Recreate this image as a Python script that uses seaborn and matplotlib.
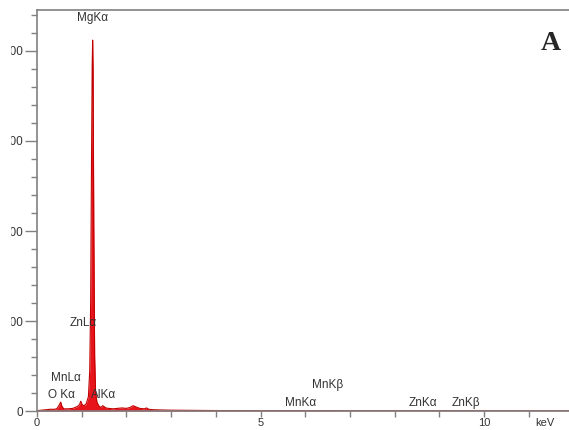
import numpy as np
import pandas as pd
import seaborn as sns
import matplotlib.pyplot as plt

# EDS spectrum (energy in keV, counts)
energia = [0.0, 0.1, 0.2, 0.3, 0.4, 0.45, 0.5, 0.53, 0.56, 0.6, 0.7, 0.8, 0.9,
           0.95, 0.98, 1.01, 1.05, 1.1, 1.15, 1.18, 1.2, 1.22, 1.235, 1.245, 1.255,
           1.27, 1.29, 1.31, 1.34, 1.38, 1.43, 1.47, 1.5, 1.54, 1.6, 1.7, 1.8, 1.9,
           2.0, 2.08, 2.15, 2.22, 2.3, 2.4, 2.45, 2.5, 2.6, 2.8, 3.0, 3.5, 4.0, 5.0,
           6.0, 7.0, 8.0, 9.0, 10.0, 11.0, 11.9]
cuentas = [0.5, 1.0, 1.5, 2.0, 2.0, 3.0, 7.0, 10.0, 5.0, 2.5, 2.5, 3.0, 5.0,
           7.0, 11.0, 7.0, 6.0, 8.0, 16.0, 45.0, 120.0, 280.0, 385.0, 412.0, 380.0,
           210.0, 60.0, 22.0, 10.0, 6.0, 4.0, 6.0, 5.0, 3.5, 3.0, 2.5, 3.0, 3.5,
           3.0, 4.0, 6.0, 4.5, 3.0, 2.5, 3.5, 2.0, 1.5, 1.2, 1.0, 0.8, 0.6, 0.5,
           0.5, 0.4, 0.4, 0.4, 0.3, 0.3, 0.3]

# etiquetas de los picos
picos = ['MgKα', 'ZnLα', 'MnLα', 'O Kα', 'AlKα', 'MnKβ', 'MnKα', 'ZnKα', 'ZnKβ']
picos_x = [1.25, 1.04, 0.64, 0.54, 1.50, 6.50, 5.90, 8.64, 9.60]
picos_y = [437, 98, 37, 18, 18, 29, 9, 9, 9]

yticks = [0, 100, 200, 300, 400]
xticks = list(range(0, 12))
xlabels = ['0', '', '', '', '', '5', '', '', '', '', '10', '']

df = pd.DataFrame({'keV': energia, 'counts': cuentas})

sns.set_style("ticks")
plt.rcParams['font.family'] = ['Liberation Sans', 'DejaVu Sans']

fig = plt.figure(figsize=(5.69, 4.30), dpi=100)
ax = fig.add_axes([0.065, 0.044, 0.935, 0.933])

sns.lineplot(data=df, x='keV', y='counts', ax=ax, color='#c00000', linewidth=0.8)
ax.fill_between(df['keV'], df['counts'], color='#e8141c', linewidth=0)

for t, x, y in zip(picos, picos_x, picos_y):
    ax.text(x, y, t, ha='center', va='center', fontsize=8.5, color='#333333')

ax.text(0.965, 0.915, 'A', transform=ax.transAxes, ha='center', va='center',
        fontsize=20, fontweight='bold', family='Liberation Serif')
ax.text(0.955, -0.03, 'keV', transform=ax.transAxes, ha='center', va='center',
        fontsize=8, color='#333333')

ax.set_xlim(0, 11.9)
ax.set_ylim(0, 445.6)
ax.set_xticks(xticks)
ax.set_xticklabels(xlabels)
ax.set_yticks(yticks)
ax.set_yticks(np.arange(0, 445, 20), minor=True)
ax.set_xlabel('')
ax.set_ylabel('')

for s in ['left', 'bottom', 'top']:
    ax.spines[s].set_color('#808080')
    ax.spines[s].set_linewidth(1.2)
ax.spines['right'].set_visible(False)
ax.tick_params(axis='x', length=4, width=1, color='#808080', labelsize=8,
               pad=1, labelcolor='#333333')
ax.tick_params(axis='y', which='major', length=9, width=1, color='#808080',
               labelsize=8.5, pad=1, labelcolor='#333333')
ax.tick_params(axis='y', which='minor', length=4, width=1, color='#808080')

# la imagen original esta recortada por la izquierda
fig.patches.append(plt.Rectangle((0, 0), 10 / 569, 1, transform=fig.transFigure,
                                 color='white', zorder=10))

plt.savefig("out.png", dpi=100)
plt.close()
